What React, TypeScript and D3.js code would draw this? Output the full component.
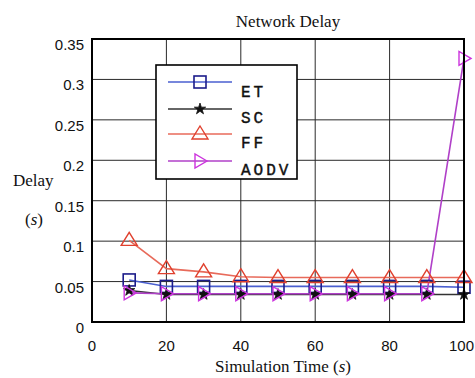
import * as d3 from 'd3'
import * as React from 'react'

// Data
const times = [10, 20, 30, 40, 50, 60, 70, 80, 90, 100]
const etDelay = [0.052, 0.044, 0.044, 0.044, 0.044, 0.044, 0.044, 0.044, 0.044, 0.043]
const scDelay = [0.039, 0.034, 0.034, 0.034, 0.034, 0.034, 0.034, 0.034, 0.034, 0.034]
const ffDelay = [0.101, 0.066, 0.062, 0.056, 0.055, 0.055, 0.055, 0.055, 0.055, 0.055]
const aodvDelay = [0.036, 0.035, 0.035, 0.035, 0.035, 0.035, 0.035, 0.035, 0.035, 0.326]
const xTicks = [0, 20, 40, 60, 80, 100]
const yTicks = [0, 0.05, 0.1, 0.15, 0.2, 0.25, 0.3, 0.35]
const seriesNames = ['ET', 'SC', 'FF', 'AODV']

type Series = { name: string, values: number[], line: string, mark: string, shape: string }

const series: Series[] = [
  { name: seriesNames[0], values: etDelay, line: '#4a5fd0', mark: '#1c1c8a', shape: 'square' },
  { name: seriesNames[1], values: scDelay, line: '#333333', mark: '#111111', shape: 'star' },
  { name: seriesNames[2], values: ffDelay, line: '#e86a5a', mark: '#e0402e', shape: 'triUp' },
  { name: seriesNames[3], values: aodvDelay, line: '#b040c8', mark: '#cc33dd', shape: 'triRight' },
]

const left = 92, right = 464, top = 39, bottom = 322

const x = d3.scaleLinear().domain([0, 100]).range([left, right])
const y = d3.scaleLinear().domain([0, 0.35]).range([bottom, top])

const Marker = ({ shape, cx, cy, color }: { shape: string, cx: number, cy: number, color: string }) => {
  const s = 6
  if (shape === 'square') {
    return <rect x={cx - s} y={cy - s} width={2 * s} height={2 * s} fill="none" stroke={color} strokeWidth={1.6} />
  }
  if (shape === 'triUp') {
    return <path d={`M${cx},${cy - s - 2}L${cx + s + 2},${cy + s - 1}L${cx - s - 2},${cy + s - 1}Z`} fill="none" stroke={color} strokeWidth={1.4} />
  }
  if (shape === 'triRight') {
    return <path d={`M${cx + s + 1},${cy}L${cx - s + 1},${cy - s - 1}L${cx - s + 1},${cy + s + 1}Z`} fill="none" stroke={color} strokeWidth={1.4} />
  }
  const star = d3.symbol().type(d3.symbolStar).size(40)()!
  return <path d={star} transform={`translate(${cx},${cy})`} fill={color} stroke={color} strokeWidth={0.8} />
}

export default function App() {
  const line = d3.line<number>()
    .x((_, i) => x(times[i]))
    .y(d => y(d))

  const legendX = 156, legendY = 65
  const legendRows = [82, 109, 134, 161]
  const textRows = [97, 123, 148, 175]

  return (
    <svg width={475} height={378} style={{ position: 'absolute', left: 0, top: 0, background: '#fff' }}>
      <rect width={475} height={378} fill="#fff" />
      {/* Grid */}
      {xTicks.slice(1, -1).map(t => (
        <line key={'gx' + t} x1={x(t)} x2={x(t)} y1={top} y2={bottom} stroke="#2a2a2a" strokeWidth={1} />
      ))}
      {yTicks.slice(1, -1).map(t => (
        <line key={'gy' + t} x1={left} x2={right} y1={y(t)} y2={y(t)} stroke="#2a2a2a" strokeWidth={1} />
      ))}

      {/* Series */}
      {series.map(s => (
        <path key={s.name} d={line(s.values)!} fill="none" stroke={s.line} strokeWidth={1.6} />
      ))}
      {series.map(s => s.values.map((v, i) => (
        <Marker key={s.name + i} shape={s.shape} cx={x(times[i])} cy={y(v)} color={s.mark} />
      )))}

      {/* Frame */}
      <rect x={left} y={top} width={right - left} height={bottom - top} fill="none" stroke="#000" strokeWidth={2} />

      {/* Tick labels */}
      {yTicks.map(t => (
        <text key={'ty' + t} x={84} y={y(t) + 11} textAnchor="end" fontFamily="Liberation Sans" fontSize={15} fill="#111">
          {t === 0 ? '0' : d3.format('.2~f')(t)}
        </text>
      ))}
      {xTicks.map(t => (
        <text key={'tx' + t} x={t === 100 ? 474 : x(t)} y={351} textAnchor={t === 100 ? 'end' : 'middle'} fontFamily="Liberation Sans" fontSize={15} fill="#111">
          {t}
        </text>
      ))}

      {/* Titles */}
      <text x={288} y={27} textAnchor="middle" fontFamily="Liberation Serif" fontSize={17} fill="#111">Network Delay</text>
      <text x={283} y={372} textAnchor="middle" fontFamily="Liberation Serif" fontSize={17} fill="#111">
        Simulation Time (<tspan fontStyle="italic">s</tspan>)
      </text>
      <text x={13} y={186} fontFamily="Liberation Serif" fontSize={17} fill="#111">Delay</text>
      <text x={25} y={225} fontFamily="Liberation Serif" fontSize={17} fill="#111">(<tspan fontStyle="italic">s</tspan>)</text>

      {/* Legend */}
      <rect x={legendX} y={legendY} width={141} height={114} fill="#fff" stroke="#000" strokeWidth={1.6} />
      {series.map((s, i) => (
        <g key={'lg' + s.name}>
          <line x1={168} x2={232} y1={legendRows[i]} y2={legendRows[i]} stroke={s.line} strokeWidth={1.6} />
          <Marker shape={s.shape} cx={200} cy={legendRows[i]} color={s.mark} />
          <text x={241} y={textRows[i]} fontFamily="Liberation Mono" fontSize={16} letterSpacing={3} fill="#111" stroke="#111" strokeWidth={0.4}>{s.name}</text>
        </g>
      ))}
    </svg>
  )
}
